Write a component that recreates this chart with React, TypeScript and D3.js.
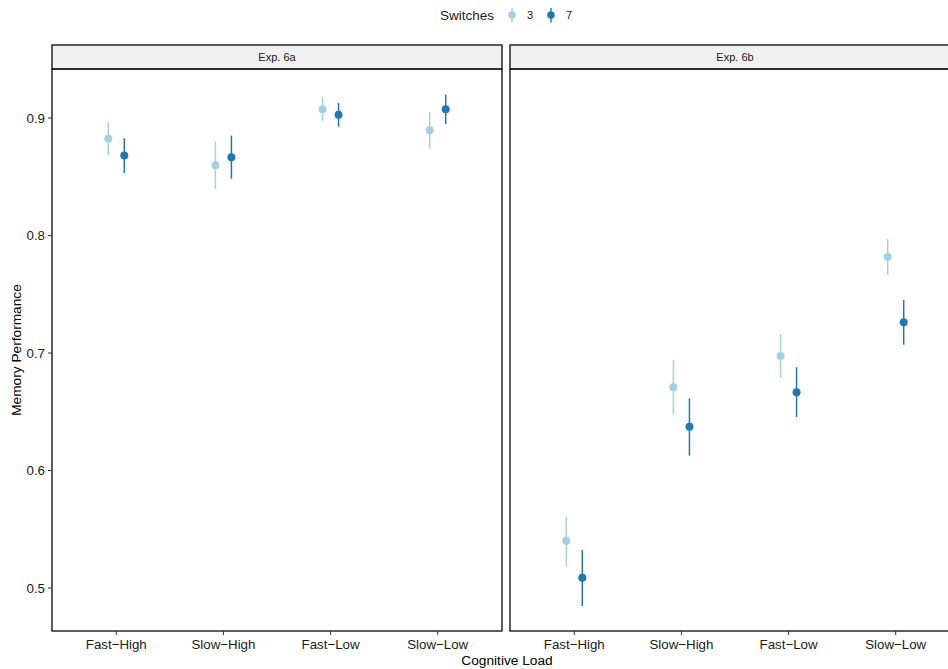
import React from "react";
import * as d3 from "d3";

const categories = ["Fast−High", "Slow−High", "Fast−Low", "Slow−Low"];
const panels = ["Exp. 6a", "Exp. 6b"];
const switches = ["3", "7"];
const colors = ["#a6cee3", "#1f78b4"];
const yTicks = [0.5, 0.6, 0.7, 0.8, 0.9];

const means6a3 = [0.8824, 0.8597, 0.9074, 0.8895];
const lo6a3 = [0.8683, 0.8398, 0.8975, 0.8739];
const hi6a3 = [0.8963, 0.8799, 0.918, 0.9048];
const means6a7 = [0.868, 0.8665, 0.9028, 0.9074];
const lo6a7 = [0.8532, 0.8484, 0.8926, 0.8946];
const hi6a7 = [0.8827, 0.885, 0.9128, 0.92];
const means6b3 = [0.5403, 0.6708, 0.6974, 0.7817];
const lo6b3 = [0.5185, 0.6478, 0.679, 0.7666];
const hi6b3 = [0.5604, 0.6938, 0.7159, 0.7968];
const means6b7 = [0.5088, 0.6373, 0.6666, 0.7261];
const lo6b7 = [0.4847, 0.6126, 0.6455, 0.7071];
const hi6b7 = [0.5323, 0.6614, 0.6878, 0.7451];

const series = [
  [
    { m: means6a3, lo: lo6a3, hi: hi6a3 },
    { m: means6a7, lo: lo6a7, hi: hi6a7 },
  ],
  [
    { m: means6b3, lo: lo6b3, hi: hi6b3 },
    { m: means6b7, lo: lo6b7, hi: hi6b7 },
  ],
];

const W = 948;
const H = 669;
const FONT = "'Liberation Sans', Arial, Helvetica, sans-serif";
const panelLeft = [52, 510];
const panelW = 450;
const stripTop = 45;
const panelTop = 69;
const panelBottom = 631;

export default function App() {
  const y = d3
    .scaleLinear()
    .domain([0.4634, 0.9417])
    .range([panelBottom, panelTop]);
  const dodge = 8;

  return (
    <svg
      width={W}
      height={H}
      style={{ position: "absolute", left: 0, top: 0, display: "block", background: "#fff" }}
      fontFamily={FONT}
    >
      {/* Legend */}
      <g>
        <text x={440} y={19.5} fontSize={13.5} fill="#1a1a1a">
          Switches
        </text>
        {switches.map((s, i) => {
          const cx = 512 + i * 39;
          return (
            <g key={s}>
              <line x1={cx} x2={cx} y1={8} y2={22.5} stroke={colors[i]} strokeWidth={1.5} />
              <circle cx={cx} cy={15} r={3.8} fill={colors[i]} />
              <text x={cx + 15} y={19} fontSize={11} fill="#1a1a1a">
                {s}
              </text>
            </g>
          );
        })}
      </g>

      {panels.map((p, pi) => {
        const left = panelLeft[pi];
        const x = d3
          .scalePoint<string>()
          .domain(categories)
          .range([left, left + panelW])
          .padding(0.6);
        return (
          <g key={p}>
            <rect
              x={left}
              y={stripTop}
              width={panelW}
              height={panelTop - stripTop}
              fill="#f0f0f0"
              stroke="#1a1a1a"
              strokeWidth={1.4}
            />
            <text
              x={left + panelW / 2}
              y={(stripTop + panelTop) / 2 + 4}
              textAnchor="middle"
              fontSize={11}
              fill="#1a1a1a"
            >
              {p}
            </text>
            {series[pi].map((s, si) => (
              <g key={si}>
                {categories.map((c, ci) => {
                  const cx = (x(c) as number) + (si === 0 ? -dodge : dodge);
                  return (
                    <g key={c}>
                      <line
                        x1={cx}
                        x2={cx}
                        y1={y(s.lo[ci])}
                        y2={y(s.hi[ci])}
                        stroke={colors[si]}
                        strokeWidth={1.5}
                      />
                      <circle cx={cx} cy={y(s.m[ci])} r={4} fill={colors[si]} />
                    </g>
                  );
                })}
              </g>
            ))}
            <rect
              x={left}
              y={panelTop}
              width={panelW}
              height={panelBottom - panelTop}
              fill="none"
              stroke="#1a1a1a"
              strokeWidth={1.4}
            />
            {categories.map((c) => (
              <g key={c}>
                <line
                  x1={x(c)}
                  x2={x(c)}
                  y1={panelBottom}
                  y2={panelBottom + 4}
                  stroke="#333"
                  strokeWidth={1}
                />
                <text
                  x={x(c)}
                  y={panelBottom + 17.5}
                  textAnchor="middle"
                  fontSize={13.3}
                  fill="#1a1a1a"
                >
                  {c}
                </text>
              </g>
            ))}
            {pi === 0 &&
              yTicks.map((t) => (
                <g key={t}>
                  <line
                    x1={left - 4}
                    x2={left}
                    y1={y(t)}
                    y2={y(t)}
                    stroke="#333"
                    strokeWidth={1}
                  />
                  <text
                    x={left - 7}
                    y={y(t) + 4.8}
                    textAnchor="end"
                    fontSize={13.3}
                    fill="#1a1a1a"
                  >
                    {t.toFixed(1)}
                  </text>
                </g>
              ))}
          </g>
        );
      })}

      <text x={507} y={665} textAnchor="middle" fontSize={13.7} fill="#000">
        Cognitive Load
      </text>
      <text
        transform={`translate(21, ${(panelTop + panelBottom) / 2}) rotate(-90)`}
        textAnchor="middle"
        fontSize={13.7}
        fill="#000"
      >
        Memory Performance
      </text>
    </svg>
  );
}
